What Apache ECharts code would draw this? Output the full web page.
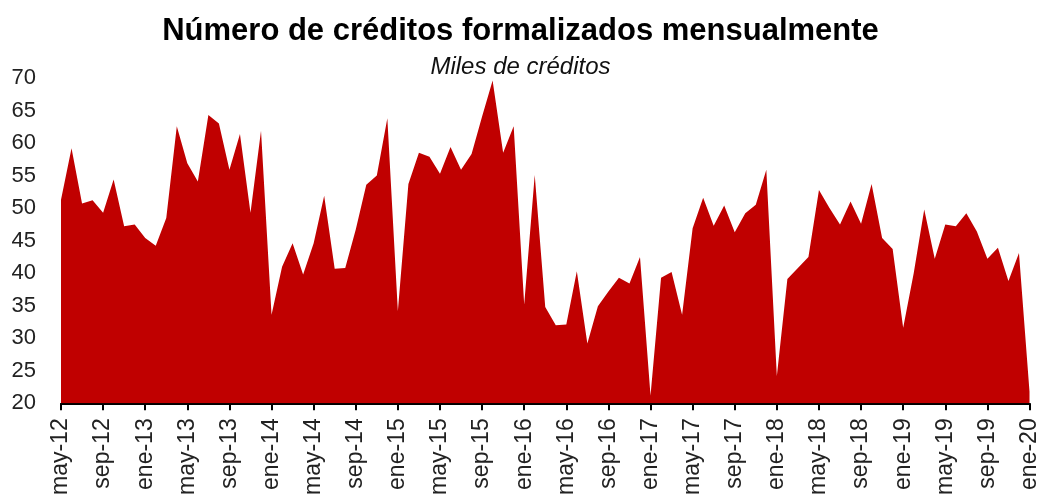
<!DOCTYPE html>
<html>
<head>
<meta charset="utf-8">
<script src="https://cdn.jsdelivr.net/npm/echarts@6/dist/echarts.min.js"></script>
<style>html,body{margin:0;padding:0;background:#fff;}#c{width:1041px;height:498px;}</style>
</head>
<body>
<div id="c"></div>
<script>
var categories = [
 'may-12','jun-12','jul-12','ago-12','sep-12','oct-12','nov-12','dic-12',
 'ene-13','feb-13','mar-13','abr-13','may-13','jun-13','jul-13','ago-13','sep-13','oct-13','nov-13','dic-13',
 'ene-14','feb-14','mar-14','abr-14','may-14','jun-14','jul-14','ago-14','sep-14','oct-14','nov-14','dic-14',
 'ene-15','feb-15','mar-15','abr-15','may-15','jun-15','jul-15','ago-15','sep-15','oct-15','nov-15','dic-15',
 'ene-16','feb-16','mar-16','abr-16','may-16','jun-16','jul-16','ago-16','sep-16','oct-16','nov-16','dic-16',
 'ene-17','feb-17','mar-17','abr-17','may-17','jun-17','jul-17','ago-17','sep-17','oct-17','nov-17','dic-17',
 'ene-18','feb-18','mar-18','abr-18','may-18','jun-18','jul-18','ago-18','sep-18','oct-18','nov-18','dic-18',
 'ene-19','feb-19','mar-19','abr-19','may-19','jun-19','jul-19','ago-19','sep-19','oct-19','nov-19','dic-19',
 'ene-20'
];
var creditos = [
 51.3, 59.2, 50.7, 51.2, 49.3, 54.4, 47.2, 47.5,
 45.4, 44.2, 48.5, 62.6, 56.9, 54.1, 64.3, 63.0, 55.9, 61.4, 49.3, 61.9,
 33.6, 41.0, 44.6, 39.8, 44.6, 51.9, 40.7, 40.8, 46.7, 53.6, 55.0, 63.8,
 34.2, 53.7, 58.5, 57.9, 55.3, 59.4, 55.9, 58.3, 64.1, 69.6, 58.5, 62.6,
 35.2, 55.1, 34.8, 32.0, 32.1, 40.3, 29.2, 34.9, 37.2, 39.3, 38.4, 42.5,
 21.2, 39.3, 40.2, 33.6, 46.9, 51.6, 47.3, 50.4, 46.3, 49.2, 50.5, 55.9,
 24.2, 39.1, 40.8, 42.5, 52.8, 50.0, 47.5, 51.0, 47.6, 53.7, 45.4, 43.7,
 31.6, 40.0, 49.8, 42.2, 47.5, 47.2, 49.2, 46.4, 42.2, 43.9, 38.8, 43.1,
 21.8
];
var titleText = 'Número de créditos formalizados mensualmente';
var subtitleText = 'Miles de créditos';

var chart = echarts.init(document.getElementById('c'), null, {renderer: 'canvas'});
chart.setOption({
  animation: false,
  backgroundColor: '#ffffff',
  title: {
    text: titleText,
    subtext: subtitleText,
    left: 'center',
    top: 11,
    itemGap: 8,
    textStyle: {fontFamily: 'Liberation Sans', fontWeight: 'bold', fontSize: 31, color: '#000'},
    subtextStyle: {fontFamily: 'Liberation Sans', fontStyle: 'italic', fontSize: 24, color: '#111'}
  },
  grid: {left: 61, right: 9, top: 78, bottom: 94, containLabel: false},
  xAxis: {
    type: 'category',
    data: categories,
    boundaryGap: false,
    axisLine: {show: true, lineStyle: {color: '#000', width: 2}},
    axisTick: {show: true, interval: 3, length: 7, lineStyle: {color: '#000', width: 2}},
    axisLabel: {interval: 3, rotate: 90, margin: 15, fontFamily: 'Liberation Sans', fontSize: 23, color: '#222'},
    splitLine: {show: false}
  },
  yAxis: {
    type: 'value',
    min: 20, max: 70, interval: 5,
    axisLine: {show: false},
    axisTick: {show: false},
    splitLine: {show: false},
    axisLabel: {margin: 25, align: 'right', fontFamily: 'Liberation Sans', fontSize: 22, color: '#222'}
  },
  series: [{
    type: 'line',
    data: creditos,
    symbol: 'none',
    lineStyle: {width: 0, color: '#C00000'},
    itemStyle: {color: '#C00000'},
    areaStyle: {color: '#C00000', opacity: 1, origin: 'start'}
  }]
});
</script>
</body>
</html>
